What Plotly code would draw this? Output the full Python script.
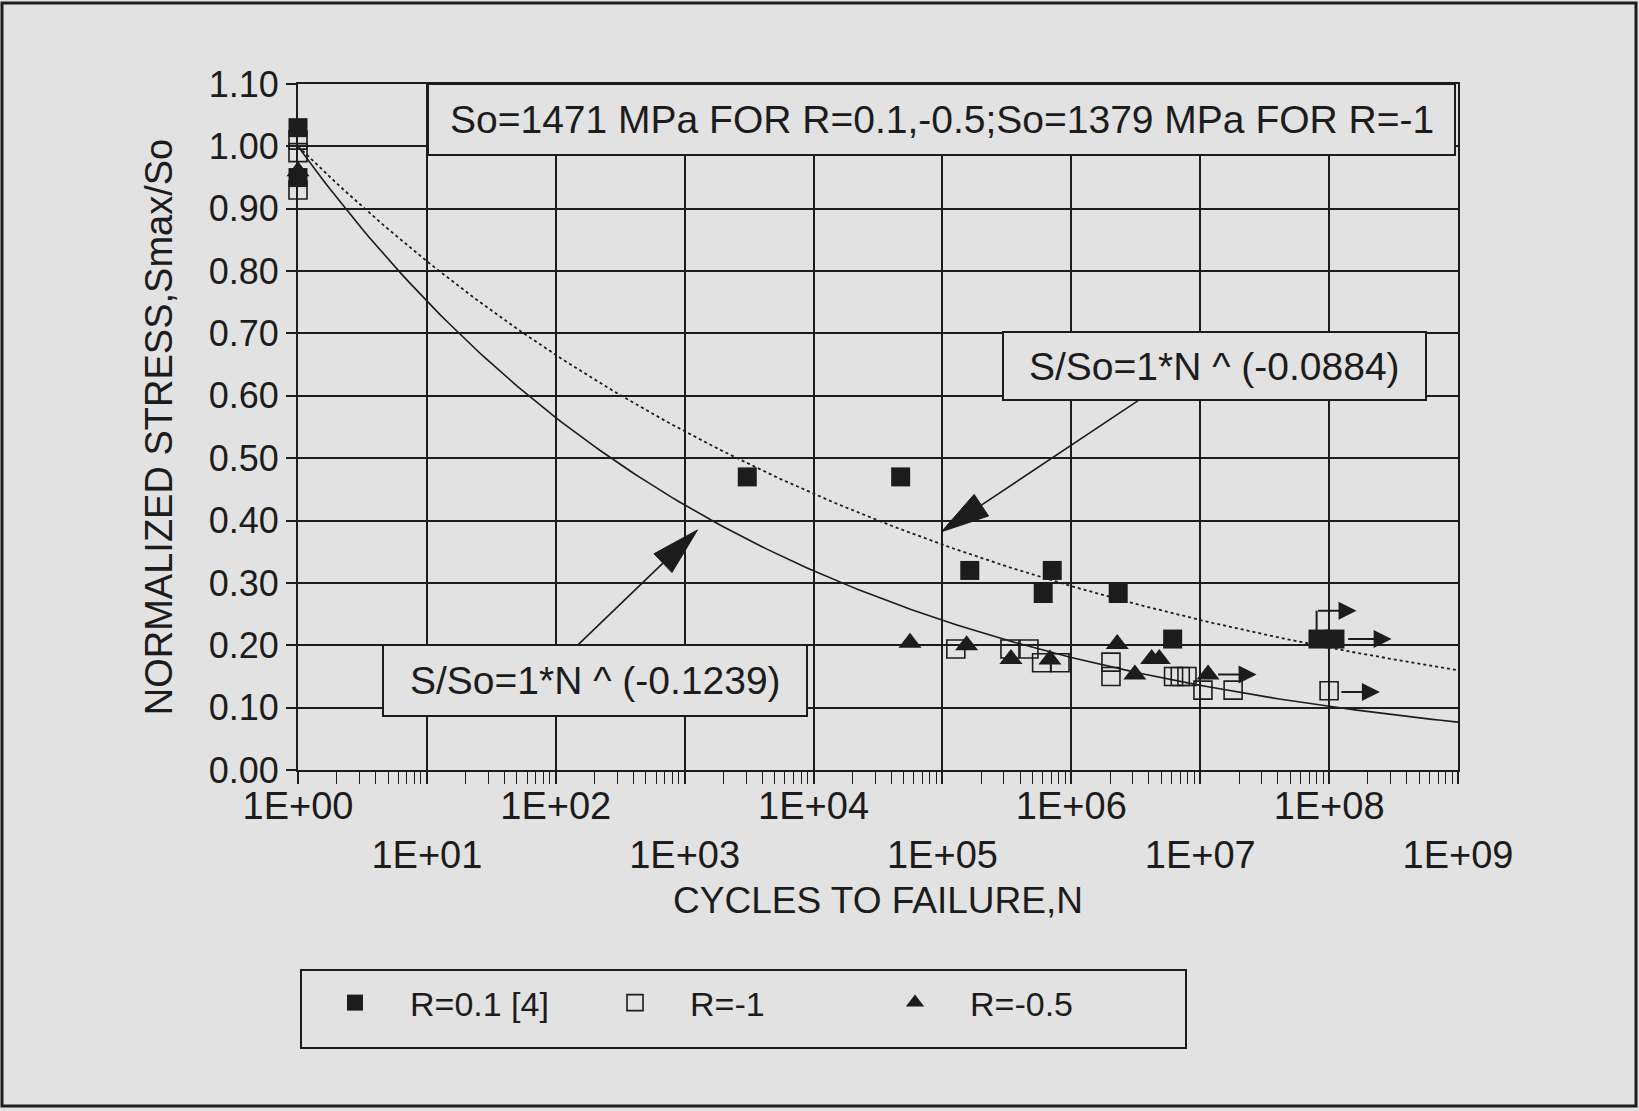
import math
import plotly.graph_objects as go

# ---------------- data ----------------
r01_N = [1, 1, 3060, 47400, 163000, 711000, 605000, 2310000, 6110000, 8.2e7, 1.11e8]
r01_S = [1.03, 0.95, 0.47, 0.47, 0.32, 0.32, 0.283, 0.283, 0.21, 0.21, 0.21]

rm1_N = [1, 1, 1, 127000, 334000, 469000, 588000, 817000, 2030000, 2030000,
         6210000, 7000000, 7890000, 1.05e7, 1.8e7, 1.0e8]
rm1_S = [1.01, 0.99, 0.93, 0.194, 0.194, 0.194, 0.172, 0.172, 0.173, 0.15,
         0.15, 0.15, 0.15, 0.128, 0.128, 0.127]

rm05_N = [1, 56000, 154000, 340000, 682000, 2270000, 3110000, 4200000, 4810000, 1.15e7]
rm05_S = [0.96, 0.204, 0.20, 0.178, 0.177, 0.202, 0.153, 0.178, 0.178, 0.153]

fit_exp_R01 = -0.0884   # dotted fit  S/So = N^(-0.0884)
fit_exp_Rm1 = -0.1239   # solid fit   S/So = N^(-0.1239)

x_tick_vals = [1, 1e1, 1e2, 1e3, 1e4, 1e5, 1e6, 1e7, 1e8, 1e9]
x_tick_text = ["1E+00", "1E+01", "1E+02", "1E+03", "1E+04",
               "1E+05", "1E+06", "1E+07", "1E+08", "1E+09"]
x_minor_vals = [m * 10 ** k for k in range(9) for m in range(2, 10)]

# run-out arrows: (tail log10N, tip log10N, S)
runout_arrows = [(8.136, 8.485, 0.21), (7.127, 7.437, 0.153), (8.084, 8.394, 0.125)]
runout_bent = (7.903, 0.222, 0.2555, 8.213)  # log10N, S_from, S_to, log10N tip

legend_names = ["R=0.1 [4]", "R=-1", "R=-0.5"]

# ---------------- layout geometry ----------------
W, H = 1639, 1111
L, R, T, B = 298, 1458, 84, 770
PW, PH = R - L, B - T
XMAX, YMAX = 9.0, 1.1
BG = "#e2e2e2"
INK = "#1c1c1c"
FONT = "Liberation Sans, Arial, sans-serif"


def fx(px):
    return (px - L) / PW


def fy(py):
    return (B - py) / PH


def d2px(lx, s):
    return L + lx / XMAX * PW, B - s / YMAX * PH


fig = go.Figure()

# fitted curves
curve_N = [10 ** (k / 20) for k in range(0, 181)]
fig.add_trace(go.Scatter(x=curve_N, y=[n ** fit_exp_Rm1 for n in curve_N], mode="lines",
                         line=dict(color=INK, width=1.6), showlegend=False, hoverinfo="skip"))
fig.add_trace(go.Scatter(x=curve_N, y=[n ** fit_exp_R01 for n in curve_N], mode="lines",
                         line=dict(color=INK, width=1.8, dash="dot"), showlegend=False,
                         hoverinfo="skip"))

fig.add_trace(go.Scatter(x=r01_N, y=r01_S, mode="markers", name=legend_names[0],
                         marker=dict(symbol="square", size=19, color=INK,
                                     line=dict(width=0)), cliponaxis=False))
fig.add_trace(go.Scatter(x=rm1_N, y=rm1_S, mode="markers", name=legend_names[1],
                         marker=dict(symbol="square-open", size=18, color=INK,
                                     line=dict(width=1.6, color=INK)), cliponaxis=False))
fig.add_trace(go.Scatter(x=rm05_N, y=rm05_S, mode="markers", name=legend_names[2],
                         marker=dict(symbol="triangle-up", size=20, color=INK,
                                     line=dict(width=0)), cliponaxis=False))

shapes = []
annotations = []

# outer frame of picture
shapes.append(dict(type="rect", xref="paper", yref="paper", x0=fx(2), x1=fx(1636),
                   y0=fy(3), y1=fy(1106), line=dict(color=INK, width=3), layer="below"))

# text boxes
boxes = [
    ((428, 84, 1455, 155), "So=1471 MPa FOR R=0.1,-0.5;So=1379 MPa FOR R=-1"),
    ((1003, 332, 1426, 400), "S/So=1*N ^ (-0.0884)"),
    ((383, 645, 807, 716), "S/So=1*N ^ (-0.1239)"),
]
for (x0, y0, x1, y1), txt in boxes:
    shapes.append(dict(type="rect", xref="paper", yref="paper", x0=fx(x0), x1=fx(x1),
                       y0=fy(y1), y1=fy(y0), line=dict(color=INK, width=2),
                       fillcolor=BG, layer="above"))
    annotations.append(dict(xref="paper", yref="paper", x=fx((x0 + x1) / 2),
                            y=fy((y0 + y1) / 2), text=txt, showarrow=False,
                            font=dict(size=39, color=INK, family=FONT),
                            xanchor="center", yanchor="middle"))

# pointer arrows with long narrow heads (tail, tip in data units: log10N, S)
pointers = [((6.524, 0.593), (4.992, 0.382)), ((2.172, 0.2007), (3.10, 0.385))]
for (tl, ts), (hl, hs) in pointers:
    tx, ty = d2px(tl, ts)
    hx, hy = d2px(hl, hs)
    dx, dy = hx - tx, hy - ty
    ln = math.hypot(dx, dy)
    ux, uy = dx / ln, dy / ln
    nx, ny = -uy, ux
    hl_px, hw_px = 48, 13
    bx, by = hx - ux * hl_px, hy - uy * hl_px
    shapes.append(dict(type="line", xref="paper", yref="paper", x0=fx(tx), y0=fy(ty),
                       x1=fx(bx), y1=fy(by), line=dict(color=INK, width=1.6), layer="above"))
    p = "M{:.5f},{:.5f} L{:.5f},{:.5f} L{:.5f},{:.5f} Z".format(
        fx(hx), fy(hy), fx(bx + nx * hw_px), fy(by + ny * hw_px),
        fx(bx - nx * hw_px), fy(by - ny * hw_px))
    shapes.append(dict(type="path", xref="paper", yref="paper", path=p,
                       fillcolor=INK, line=dict(color=INK, width=1), layer="above"))

# run-out arrows
for tail, tip, s in runout_arrows:
    annotations.append(dict(x=tip, y=s, ax=tail, ay=s, xref="x", yref="y", axref="x",
                            ayref="y", text="", showarrow=True, arrowhead=2,
                            arrowsize=1.8, arrowwidth=2, arrowcolor=INK))
bx_, by0, by1, btip = runout_bent
shapes.append(dict(type="line", xref="x", yref="y", x0=10 ** bx_, x1=10 ** bx_, y0=by0,
                   y1=by1, line=dict(color=INK, width=2), layer="above"))
annotations.append(dict(x=btip, y=by1, ax=bx_, ay=by1, xref="x", yref="y", axref="x",
                        ayref="y", text="", showarrow=True, arrowhead=2, arrowsize=1.8,
                        arrowwidth=2, arrowcolor=INK))

# legend box
shapes.append(dict(type="rect", xref="paper", yref="paper", x0=fx(301), x1=fx(1186),
                   y0=fy(1048), y1=fy(970), line=dict(color=INK, width=2), layer="below"))

# x tick labels alternate in two rows
ticktext = [t if i % 2 == 0 else "<br>" + t for i, t in enumerate(x_tick_text)]

fig.update_layout(
    width=W, height=H,
    margin=dict(l=L, r=W - R, t=T, b=H - B, pad=0),
    paper_bgcolor=BG, plot_bgcolor=BG,
    font=dict(family=FONT, color=INK),
    shapes=shapes, annotations=annotations,
    showlegend=True,
    legend=dict(orientation="h", x=fx(300), xanchor="left", y=fy(1003), yanchor="middle",
                bgcolor="rgba(0,0,0,0)", borderwidth=0, font=dict(size=34, color=INK),
                itemwidth=100, entrywidth=165, itemsizing="trace"),
    xaxis=dict(type="log", range=[0, XMAX], tickmode="array", tickvals=x_tick_vals,
               ticktext=ticktext, tickfont=dict(size=38, color=INK), ticks="outside",
               ticklen=12, tickwidth=1.5, tickcolor=INK, showgrid=True, gridcolor=INK,
               gridwidth=1.8, showline=True, linecolor=INK, linewidth=2, mirror=True,
               zeroline=False, ticklabelstandoff=-11,
               minor=dict(tickvals=x_minor_vals, ticks="outside", ticklen=12, tickwidth=1.3,
                          tickcolor=INK, showgrid=False),
               title=dict(text="CYCLES TO FAILURE,N", font=dict(size=37, color=INK),
                          standoff=12)),
    yaxis=dict(range=[0, YMAX], dtick=0.1, tick0=0, tickformat=".2f",
               tickfont=dict(size=36, color=INK), ticks="outside", ticklen=10, tickwidth=1.5,
               tickcolor=INK, showgrid=True, gridcolor=INK, gridwidth=1.8, showline=True,
               linecolor=INK, linewidth=2, mirror=True, zeroline=False,
               title=dict(text="NORMALIZED STRESS,Smax/So", font=dict(size=38, color=INK),
                          standoff=24)),
)

fig.write_html("out.html", config={"displayModeBar": False},
               post_script="document.body.style.margin='0px';")
